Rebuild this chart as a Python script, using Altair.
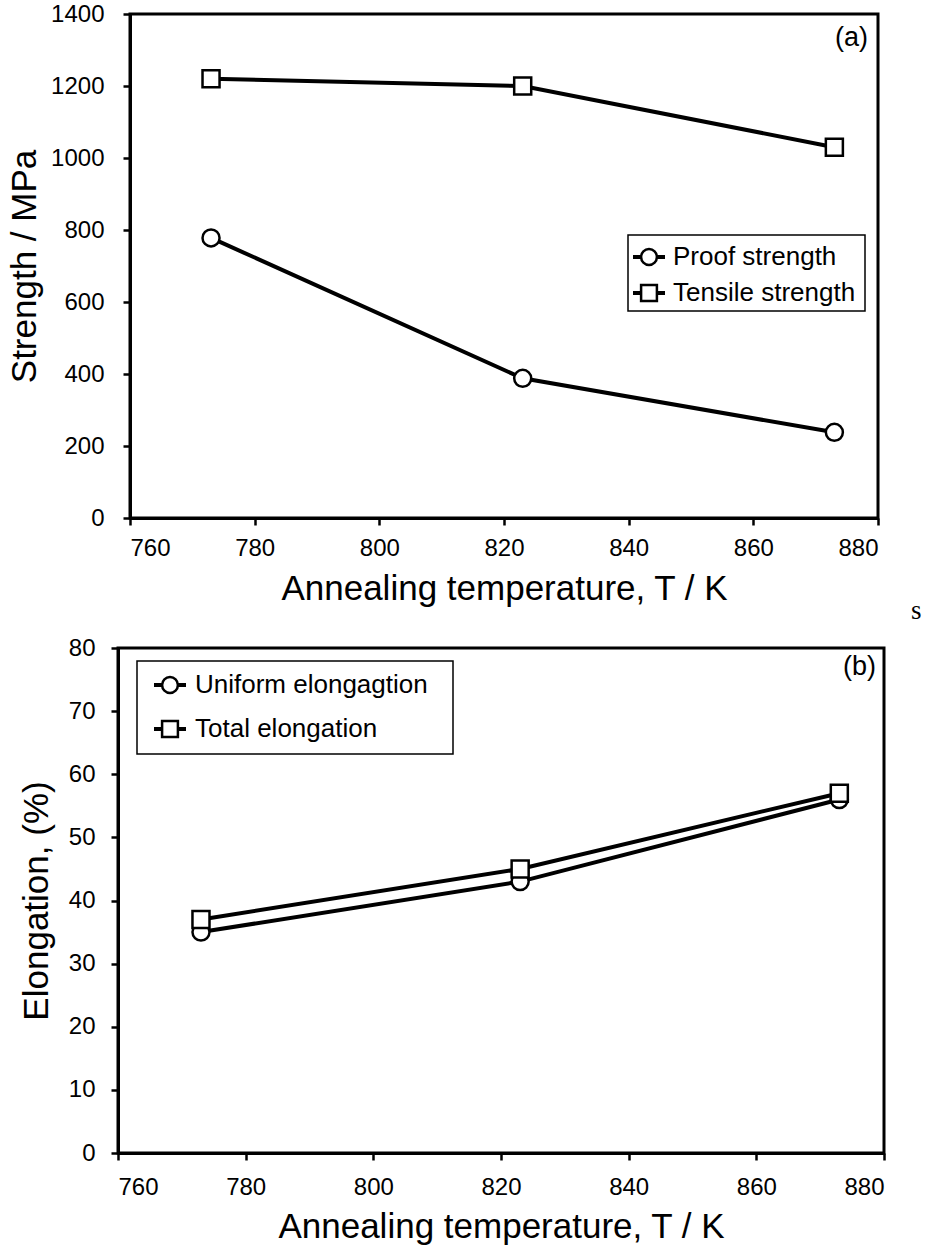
import altair as alt
import pandas as pd

# ---------------- data ----------------
temps = [773, 823, 873]
proof_strength = [778, 388, 238]
tensile_strength = [1220, 1200, 1030]
uniform_elong = [35, 43, 56]
total_elong = [37, 45, 57]

top_series = ["Proof strength", "Tensile strength"]
bot_series = ["Uniform elongagtion", "Total elongation"]
x_ticks = [760, 780, 800, 820, 840, 860, 880]
top_y_ticks = [0, 200, 400, 600, 800, 1000, 1200, 1400]
bot_y_ticks = [0, 10, 20, 30, 40, 50, 60, 70, 80]
panel_labels = ["(a)", "(b)"]
x_title = "Annealing temperature, T / K"
top_y_title = "Strength / MPa"
bot_y_title = "Elongation, (%)"
stray_text = ["s"]

FONT = "Liberation Sans"

top_df = pd.DataFrame({
    "T": temps * 2,
    "v": proof_strength + tensile_strength,
    "s": [top_series[0]] * 3 + [top_series[1]] * 3,
})
bot_df = pd.DataFrame({
    "T": temps * 2,
    "v": uniform_elong + total_elong,
    "s": [bot_series[0]] * 3 + [bot_series[1]] * 3,
})


def panel(df, series, ydom, yticks, ytitle, w, h, x0, ylab_pad, ytitle_pad,
          xlab_pad, xtitle_pad, box, rows, sym_x, txt_x,
          label, lab_x, lab_y):
    """x0: left inset of the plot frame inside the group (px)."""
    shape_scale = alt.Scale(domain=series, range=["circle", "square"])
    x_enc = alt.X("T:Q",
                  scale=alt.Scale(domain=[760, 880], nice=False, zero=False,
                                  range=[x0, w]),
                  axis=alt.Axis(values=x_ticks, title=x_title, format="d",
                                labelPadding=xlab_pad, titlePadding=xtitle_pad))
    y_enc = alt.Y("v:Q",
                  scale=alt.Scale(domain=ydom, nice=False),
                  axis=alt.Axis(values=yticks, title=ytitle, format="d",
                                offset=-x0,
                                labelPadding=ylab_pad, titlePadding=ytitle_pad))
    base = alt.Chart(df).encode(x=x_enc, y=y_enc, detail="s:N")
    frame_main = alt.Chart(pd.DataFrame({"k": [0]})).mark_rect(
        filled=False, stroke="black", strokeWidth=3
    ).encode(x=alt.value(x0), x2=alt.value(w), y=alt.value(0), y2=alt.value(h))
    lines = base.mark_line(color="black", strokeWidth=4)
    pts = base.mark_point(filled=True, fill="white", stroke="black",
                          strokeWidth=2.5, size=290, opacity=1).encode(
        shape=alt.Shape("s:N", scale=shape_scale, legend=None))
    lab = alt.Chart(pd.DataFrame({"t": [label]})).mark_text(
        font=FONT, fontSize=27, color="black", align="right", baseline="middle"
    ).encode(text="t:N", x=alt.value(lab_x), y=alt.value(lab_y))
    main = alt.layer(lines, pts, lab, frame_main)

    # legend (manual)
    leg_df = pd.DataFrame({"s": series})
    ly = alt.Y("s:N", scale=alt.Scale(type="point", domain=series, range=rows, padding=0),
               axis=None)
    frame = alt.Chart(pd.DataFrame({"k": [0]})).mark_rect(
        fill="white", stroke="black", strokeWidth=1.5
    ).encode(x=alt.value(box[0]), x2=alt.value(box[1]),
             y=alt.value(box[2]), y2=alt.value(box[3]))
    lrule = alt.Chart(leg_df).mark_rule(color="black", strokeWidth=4).encode(
        x=alt.value(sym_x - 16), x2=alt.value(sym_x + 16), y=ly)
    lpts = alt.Chart(leg_df).mark_point(filled=True, fill="white", stroke="black",
                                        strokeWidth=2.5, size=250, opacity=1).encode(
        x=alt.value(sym_x), y=ly,
        shape=alt.Shape("s:N", scale=shape_scale, legend=None))
    ltxt = alt.Chart(leg_df).mark_text(font=FONT, fontSize=26, color="black",
                                       align="left", baseline="middle").encode(
        x=alt.value(txt_x), y=ly, text="s:N")
    legend = alt.layer(frame, lrule, lpts, ltxt)
    return alt.layer(main, legend).resolve_scale(y="independent").properties(
        width=w, height=h)


# top panel: frame starts 12 px right of the group origin
top = panel(top_df, top_series, [0, 1400], top_y_ticks, top_y_title, 760, 504, 12,
            19, 8, 11, 11, [510, 747, 221, 297], [243, 279], 531, 555,
            panel_labels[0], 750, 24)
stray = alt.Chart(pd.DataFrame({"t": stray_text})).mark_text(
    font="Liberation Serif", fontSize=27, color="black", align="left", baseline="middle"
).encode(text="t:N", x=alt.value(793), y=alt.value(597))
top = alt.layer(top, stray)

bot = panel(bot_df, bot_series, [0, 80], bot_y_ticks, bot_y_title, 766, 505, 0,
            16, 14, 15, 10, [19, 335, 13, 106], [37, 81], 52, 77,
            panel_labels[1], 758, 19)

chart = alt.vconcat(top, bot, spacing=12).properties(
    padding={"left": 7, "top": 2, "right": 5, "bottom": 5},
    background="white"
).configure_view(strokeWidth=0, stroke=None).configure_axis(
    labelFont=FONT, labelFontSize=24, labelColor="black",
    titleFont=FONT, titleFontSize=35, titleFontWeight="normal", titleColor="black",
    domainColor="black", domainWidth=3, tickColor="black", tickWidth=2.5,
    tickSize=7, grid=False
)

chart.save("out.html", embed_options={"renderer": "svg", "actions": False})
